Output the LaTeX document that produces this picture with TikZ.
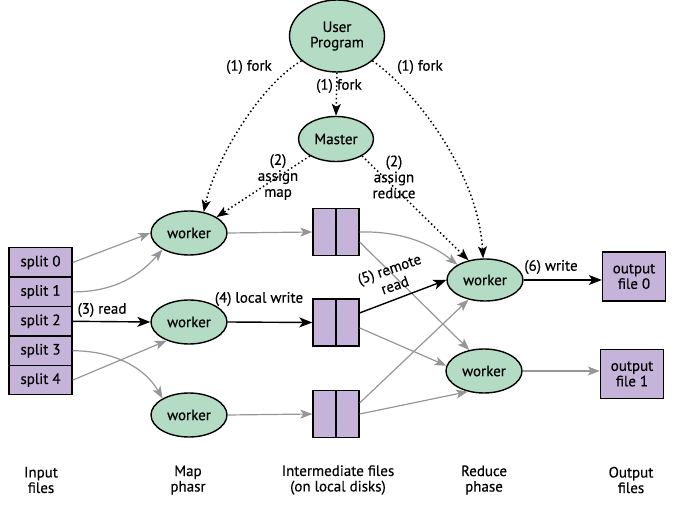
\documentclass[tikz,border=0pt]{standalone}
\usepackage{fontspec}
\setmainfont{PT Sans}[FakeBold=0.35]
\usetikzlibrary{arrows.meta,shapes.geometric}
\definecolor{nodegreen}{RGB}{180,219,196}
\definecolor{filepurple}{RGB}{197,179,217}
\definecolor{arrowgray}{RGB}{150,150,150}
\begin{document}
\begin{tikzpicture}[x=1pt,y=-1pt,
  every node/.style={font=\fontsize{15}{15.5}\selectfont},
  proc/.style={ellipse, draw, line width=1.4pt, fill=nodegreen, inner sep=0pt, align=center,
    minimum width=76pt, minimum height=44pt},
  split/.style={draw, line width=1.4pt, fill=filepurple, minimum width=63pt, minimum height=29.4pt, inner sep=0pt},
  ifile/.style={draw, line width=1.4pt, fill=filepurple, minimum width=46pt, minimum height=47pt, inner sep=0pt},
  ofile/.style={draw, line width=1.4pt, fill=filepurple, minimum width=63pt, minimum height=49pt, inner sep=0pt, align=center},
  garrow/.style={draw=arrowgray, line width=1.2pt, -{Stealth[length=12pt,width=9pt,inset=3pt]}},
  barrow/.style={draw=black, line width=1.4pt, -{Stealth[length=13pt,width=10pt,inset=3.5pt]}},
  darrow/.style={draw=black, line width=1.5pt, dash pattern=on 1.5pt off 2.7pt, -{Stealth[length=12pt,width=9pt,inset=3pt]}},
  lbl/.style={inner sep=1pt, align=center},
]
\useasboundingbox (0,0) rectangle (683,510);

% processes
\node[proc, minimum width=95pt, minimum height=72pt] (up) at (337,36) {User\\Program};
\node[proc, minimum width=75pt, minimum height=45pt] (master) at (336,139) {Master};
\node[proc] (w1) at (189,233) {worker};
\node[proc] (w2) at (189,322) {worker};
\node[proc] (w3) at (189,415) {worker};
\node[proc, minimum height=42pt] (rw1) at (485,280) {worker};
\node[proc] (rw2) at (484,371) {worker};

% input splits
\node[split] (s0) at (40.5,262.5) {split 0};
\node[split] (s1) at (40.5,291.9) {split 1};
\node[split] (s2) at (40.5,321.3) {split 2};
\node[split] (s3) at (40.5,350.7) {split 3};
\node[split] (s4) at (40.5,380.1) {split 4};

% intermediate files
\node[ifile] (f1) at (336,232) {};
\node[ifile] (f2) at (336,322.5) {};
\node[ifile] (f3) at (336,414) {};
\foreach \f in {f1,f2,f3} \draw[line width=1.4pt] (\f.north) -- (\f.south);

% output files
\node[ofile] (o0) at (634,276.5) {output\\file 0};
\node[ofile] (o1) at (632,374) {output\\file 1};

% dotted control arrows
\draw[darrow] (up.south) -- (master.north);
\draw[darrow] (up.-145) .. controls (260,85) and (215,160) .. (w1.55);
\draw[darrow] (up.-35) .. controls (412,88) and (478,170) .. (rw1.95);
\draw[darrow] (master.-147) -- (w1.30);
\draw[darrow] (master.-33) -- (rw1.130);

% input to map workers
\draw[garrow] (s0.east) -- (w1.west);
\draw[garrow] (s1.east) .. controls (115,292) and (140,275) .. (w1.-148);
\draw[barrow] (s2.east) -- (w2.west);
\draw[garrow] (s4.east) -- (w2.-140);
\draw[garrow] (s3.east) .. controls (115,351) and (145,368) .. (w3.148);

% map workers to intermediate files
\draw[garrow] (w1.east) -- (f1.west);
\draw[barrow] (w2.east) -- (f2.west);
\draw[garrow] (w3.east) -- (f3.west);

% intermediate files to reduce workers
\draw[garrow] (f1.east) .. controls (400,231) and (430,243) .. (rw1.151);
\draw[garrow] (f1.-23) -- (rw2.125);
\draw[barrow] (f2.22) -- (rw1.west);
\draw[garrow] (f2.-13) -- (rw2.172);
\draw[garrow] (f3.25) -- (rw1.-130);
\draw[garrow] (f3.east) -- (rw2.-128);

% reduce workers to output files
\draw[barrow] (rw1.east) -- (rw1.east -| o0.west);
\draw[garrow] (rw2.east) -- (rw2.east -| o1.west);

% labels
\node[lbl] (lf1) at (249,67) {(1) fork};
\node[lbl] (lf2) at (339,86) {(1) fork};
\node[lbl] (lf3) at (420,67) {(1) fork};
\node[lbl, font=\fontsize{15}{16}\selectfont] (la1) at (278,177) {(2)\\assign\\map};
\node[lbl, font=\fontsize{15}{16}\selectfont] (la2) at (394,177) {(2)\\assign\\reduce};
\node[lbl] (lr) at (102,310) {(3) read};
\node[lbl] (llw) at (259,299) {(4) local write};
\node[lbl, rotate=19, font=\fontsize{15}{17}\selectfont] (lrr) at (392,277) {(5) remote\\read};
\node[lbl] (lw) at (551,267) {(6) write};

% column captions
\node[lbl] (c1) at (41,480) {Input\\files};
\node[lbl] (c2) at (188,480) {Map\\phasr};
\node[lbl] (c3) at (338,480) {Intermediate files\\(on local disks)};
\node[lbl] (c4) at (484,480) {Reduce\\phase};
\node[lbl] (c5) at (631,480) {Output\\files};
\end{tikzpicture}
\end{document}
